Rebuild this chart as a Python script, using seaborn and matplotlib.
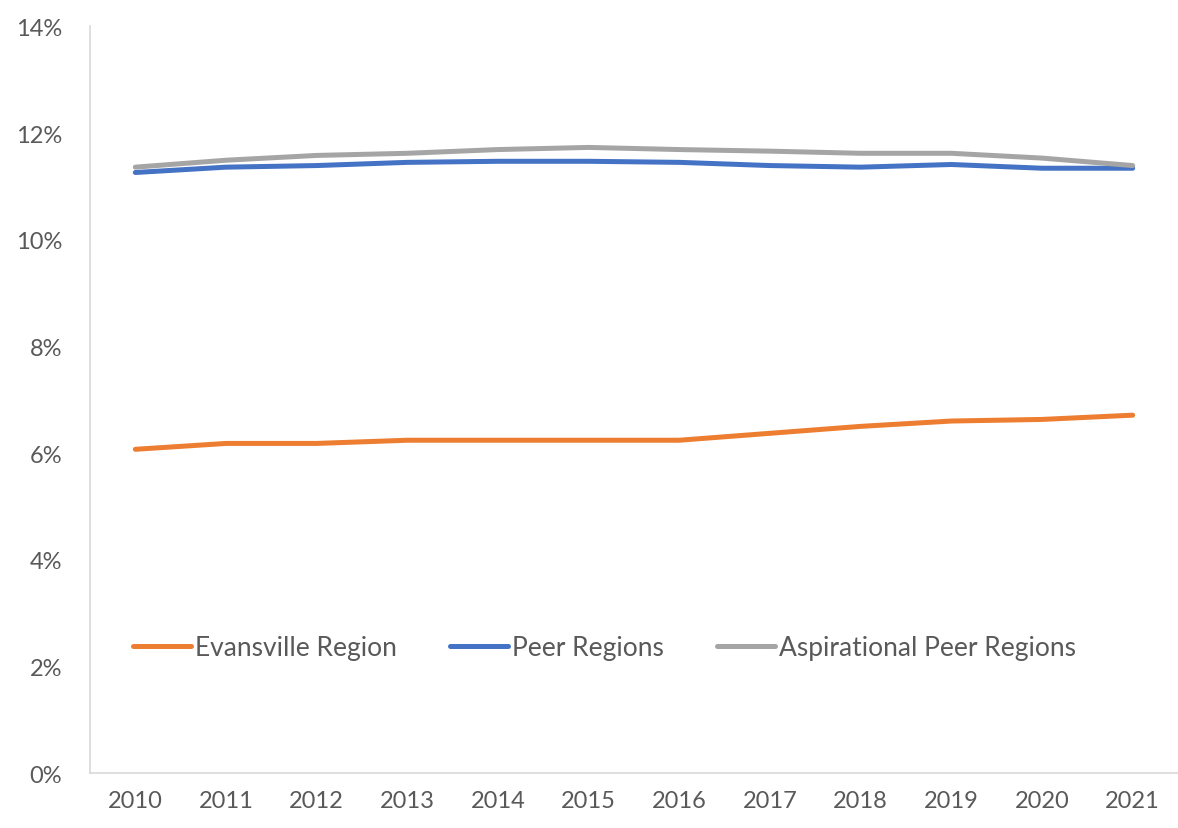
import matplotlib
matplotlib.use("Agg")
import matplotlib.pyplot as plt
import seaborn as sns
import pandas as pd
from matplotlib.ticker import PercentFormatter

years = ["2010", "2011", "2012", "2013", "2014", "2015", "2016", "2017", "2018", "2019", "2020", "2021"]
evansville = [6.07, 6.18, 6.18, 6.24, 6.24, 6.24, 6.24, 6.37, 6.50, 6.60, 6.63, 6.71]
peer = [11.26, 11.36, 11.39, 11.45, 11.47, 11.47, 11.45, 11.39, 11.36, 11.41, 11.34, 11.34]
aspirational = [11.36, 11.49, 11.58, 11.62, 11.69, 11.73, 11.69, 11.66, 11.62, 11.62, 11.53, 11.39]
series_names = ["Evansville Region", "Peer Regions", "Aspirational Peer Regions"]
colors = ["#ED7D31", "#4472C4", "#A5A5A5"]

rows = []
for name, vals in zip(series_names, [evansville, peer, aspirational]):
    for i, (y, v) in enumerate(zip(years, vals)):
        rows.append({"idx": i, "year": y, "value": v / 100, "series": name})
df = pd.DataFrame(rows)

sns.set_theme(style="white")
plt.rcParams['font.family'] = ['Lato', 'DejaVu Sans']

fig = plt.figure(figsize=(11.78, 8.29), dpi=100)
ax = fig.add_axes([0.0764, 0.0663, 0.9236, 0.9007])

sns.lineplot(data=df, x="idx", y="value", hue="series", hue_order=series_names,
             palette=colors, linewidth=3.6, ax=ax, legend=True)

ax.set_xlim(-0.5, 11.5)
ax.set_ylim(0, 0.14)
ax.set_yticks([0, 0.02, 0.04, 0.06, 0.08, 0.10, 0.12, 0.14])
ax.yaxis.set_major_formatter(PercentFormatter(1.0, decimals=0))
ax.set_xticks(range(len(years)))
ax.set_xticklabels(years)
ax.set_xlabel("")
ax.set_ylabel("")
ax.tick_params(axis="both", length=0, labelsize=17, labelcolor="#595959")
ax.tick_params(axis="y", pad=20)
ax.tick_params(axis="x", pad=12)
for s in ["top", "right"]:
    ax.spines[s].set_visible(False)
for s in ["left", "bottom"]:
    ax.spines[s].set_color("#D9D9D9")
    ax.spines[s].set_linewidth(1.2)

leg = ax.legend(loc="center left", bbox_to_anchor=(0.03, 0.168), ncol=3, frameon=False,
                fontsize=19, handlelength=2.2, handletextpad=0.15, columnspacing=2.0,
                borderaxespad=0)
for t in leg.get_texts():
    t.set_color("#595959")

fig.savefig("out.png", dpi=100)
